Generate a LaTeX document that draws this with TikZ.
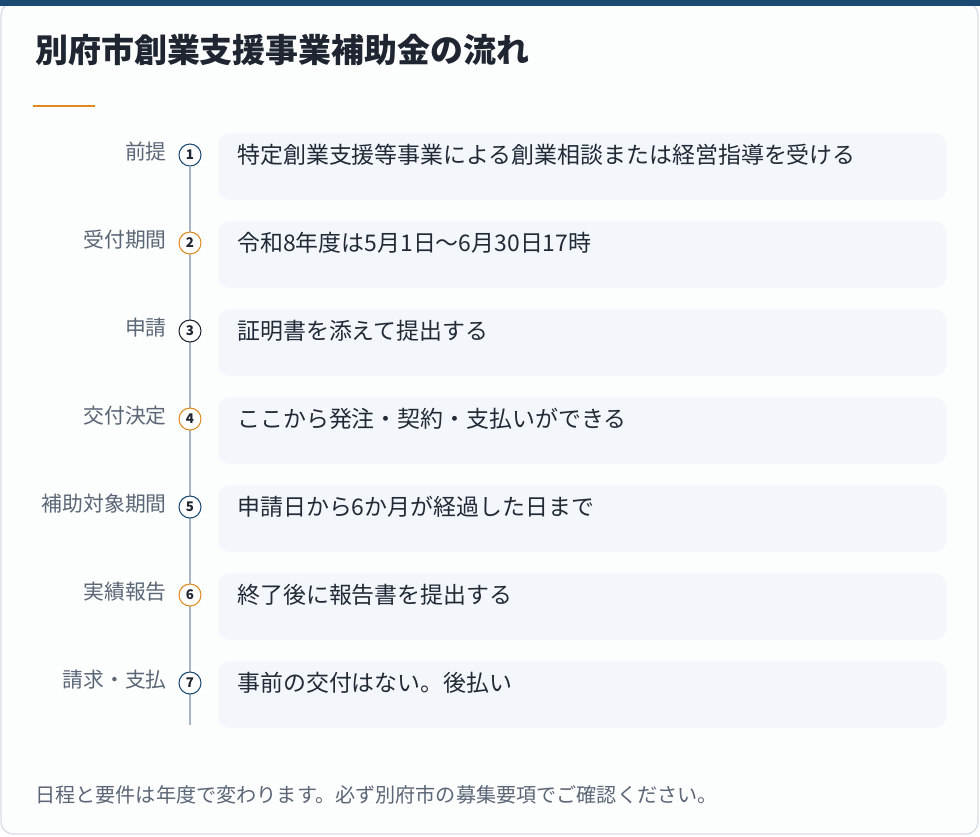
\documentclass[tikz,border=0pt]{standalone}
\usepackage{fontspec}
\setmainfont{Noto Sans CJK JP}
\usetikzlibrary{positioning,backgrounds}

\definecolor{barblue}{HTML}{1B4A72}
\definecolor{titleink}{HTML}{1F2631}
\definecolor{accent}{HTML}{E0891E}
\definecolor{cardline}{HTML}{D8DEE6}
\definecolor{cardbg}{HTML}{FCFDFD}
\definecolor{boxbg}{HTML}{F3F7FC}
\definecolor{stepink}{HTML}{222A35}
\definecolor{labelink}{HTML}{5B6676}
\definecolor{railgray}{HTML}{A8B5C5}

\tikzset{
  stepbox/.style={fill=boxbg, rounded corners=9pt, minimum width=546pt,
    minimum height=50pt, inner sep=0pt},
  steptext/.style={text=stepink, font=\fontsize{17.2}{20}\selectfont, inner sep=0pt},
  steplabel/.style={text=labelink, font=\fontsize{15.6}{18}\selectfont, inner sep=0pt},
  stepnum/.style={circle, fill=white, line width=0.8pt, minimum size=16.5pt,
    inner sep=0pt, text=titleink, font=\bfseries\fontsize{10}{11}\selectfont},
}

\begin{document}
\begin{tikzpicture}[x=0.75pt,y=-0.75pt]
    \useasboundingbox (0,0) rectangle (980,836);

    % Title
    \node[anchor=west, inner sep=0pt, text=titleink,
      font=\bfseries\fontsize{24.7}{28}\selectfont] (title) at (35,50)
      {別府市創業支援事業補助金の流れ};
    \draw[accent, line width=1pt] (33,106) -- (95,106);

    % Steps
    \foreach \i/\lab/\txt/\col in {
        1/前提/特定創業支援等事業による創業相談または経営指導を受ける/barblue,
        2/受付期間/令和8年度は5月1日～6月30日17時/accent,
        3/申請/証明書を添えて提出する/titleink,
        4/交付決定/ここから発注・契約・支払いができる/accent,
        5/補助対象期間/申請日から6か月が経過した日まで/barblue,
        6/実績報告/終了後に報告書を提出する/accent,
        7/請求・支払/事前の交付はない。後払い/barblue} {
        \pgfmathsetmacro\yy{155+88*(\i-1)}
        \node[stepbox, anchor=north west] (b\i) at (218,\yy-22) {};
        \node[steptext, anchor=west] (t\i) at (237,\yy) {\txt};
        \node[stepnum, draw=\col] (c\i) at (190,\yy) {\i};
        \node[steplabel, anchor=east] (l\i) at (167,\yy-3) {\lab};
    }
    \coordinate (railend) at (190,725);

    % Footer
    \node[anchor=west, inner sep=0pt, text=labelink,
      font=\fontsize{15.1}{18}\selectfont] (note) at (35,795)
      {日程と要件は年度で変わります。必ず別府市の募集要項でご確認ください。};

    % Card, bar and rail behind
    \begin{scope}[on background layer]
        \draw[cardline, fill=cardbg, line width=1pt, rounded corners=9pt]
          (1,3) rectangle (978,834);
        \fill[barblue] (0,0) rectangle (980,6);
        \draw[railgray, line width=0.8pt] (c1) -- (railend);
    \end{scope}
\end{tikzpicture}
\end{document}
